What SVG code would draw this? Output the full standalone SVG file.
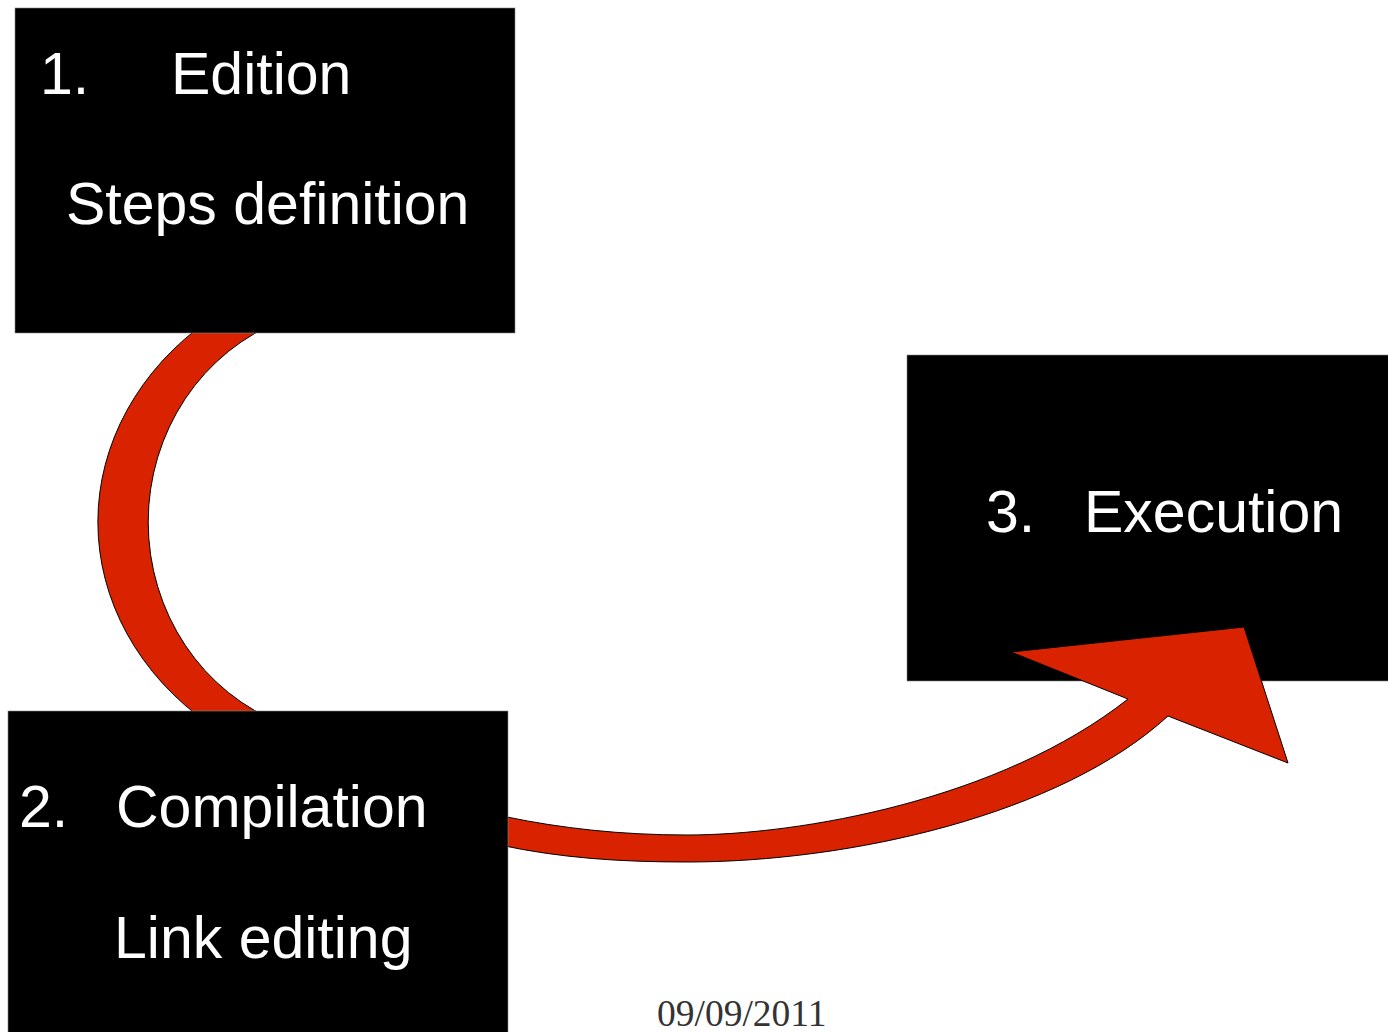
<svg xmlns="http://www.w3.org/2000/svg" width="1388" height="1032" viewBox="0 0 1388 1032">
<style>
.box{fill:#000;stroke:#888;stroke-width:0.6}
.lbl{fill:#fff;font-family:"Liberation Sans",Arial,sans-serif;font-size:59px}
.date{fill:#333;font-family:"Liberation Serif","Times New Roman",serif;font-size:37.5px}
.arrow{fill:#d92300;stroke:#000;stroke-width:1;stroke-linejoin:miter}
</style>
<rect width="1388" height="1032" fill="#fff"/>
<g id="node-execution">
<rect class="box" x="907" y="355" width="490" height="326"/>
<text class="lbl" x="986" y="532">3.</text>
<text class="lbl" x="1084" y="532">Execution</text>
</g>
<g id="connectors">
<path class="arrow" d="M 283 320 A 205 215 0 0 0 283 724 L 480 812 L 507 817 C 560 828 620 835 687 835 C 800 835 1000 800 1128 699 L 1011 652 L 1244 627 L 1288 763 L 1168 716 C 1060 815 850 862 687 862 C 620 862 560 858 500 845 L 480 843 L 209 724 A 300 260 0 0 1 209 320 Z"/>
</g>
<g id="node-edition">
<rect class="box" x="15" y="8" width="500" height="325"/>
<text class="lbl" x="40" y="94">1.</text>
<text class="lbl" x="171" y="94">Edition</text>
<text class="lbl" x="66" y="224">Steps definition</text>
</g>
<g id="node-compilation">
<rect class="box" x="8" y="711" width="500" height="330"/>
<text class="lbl" x="19" y="827">2.</text>
<text class="lbl" x="116" y="827">Compilation</text>
<text class="lbl" x="114" y="958">Link editing</text>
</g>
<text class="date" x="657" y="1026">09/09/2011</text>
</svg>
